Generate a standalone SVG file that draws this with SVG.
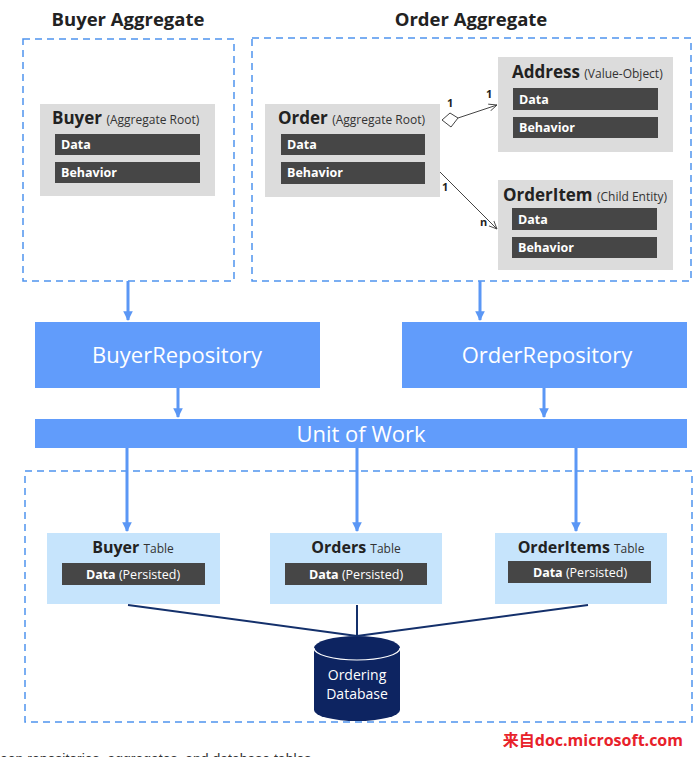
<svg xmlns="http://www.w3.org/2000/svg" width="694" height="757" viewBox="0 0 694 757">
<defs>
<style>
text{font-family:"Open Sans","Noto Sans","Liberation Sans",sans-serif}
.title{font-size:18.5px;font-weight:bold;fill:#222;text-anchor:middle}
.dash{fill:none;stroke:#4f94ee;stroke-width:1.5;stroke-dasharray:7,5}
.node{fill:#dcdcdc}
.bar{fill:#464646}
.bt{font-size:12.5px;font-weight:bold;fill:#fff}
.nn{font-size:17px;font-weight:bold;fill:#222}
.ns{font-size:12px;font-weight:normal;fill:#333}
.repo{fill:#619cfb}
.rt{font-size:22px;fill:#fff;text-anchor:middle}
.tbl{fill:#c6e4fc}
.tn{font-size:16px;font-weight:bold;fill:#222}
.ts{font-size:12px;font-weight:normal;fill:#333}
.blue{stroke:#5b97f5;stroke-width:3;fill:none}
.thin{stroke:#444;stroke-width:1;fill:none}
.navy{stroke:#14306b;stroke-width:2;fill:none}
.lbl{font-size:11px;font-weight:bold;fill:#222}
.db{font-size:14px;fill:#fff;text-anchor:middle}
</style>
<marker id="ab" viewBox="0 0 10 10" refX="9" refY="5" markerWidth="3.2" markerHeight="5" orient="auto" markerUnits="strokeWidth"><path d="M0,0 L10,5 L0,10 z" fill="#5b97f5"/></marker>
<marker id="ao" viewBox="0 0 10 10" refX="9" refY="5" markerWidth="9" markerHeight="9" orient="auto" markerUnits="userSpaceOnUse"><path d="M0,1 L9,5 L0,9" fill="none" stroke="#444" stroke-width="1"/></marker>
</defs>
<rect width="694" height="757" fill="#fff"/>

<text class="title" x="128" y="26">Buyer Aggregate</text>
<text class="title" x="471" y="26">Order Aggregate</text>

<rect class="dash" x="23" y="39" width="211" height="242"/>
<rect class="dash" x="252" y="38" width="439" height="243"/>

<g id="buyer">
<rect class="node" x="40" y="104" width="175" height="92"/>
<text class="nn" x="52" y="124">Buyer <tspan class="ns">(Aggregate Root)</tspan></text>
<rect class="bar" x="55" y="134" width="145" height="21"/>
<text class="bt" x="61" y="149">Data</text>
<rect class="bar" x="55" y="162" width="145" height="21"/>
<text class="bt" x="61" y="177">Behavior</text>
</g>

<g id="order">
<rect class="node" x="265" y="104" width="175" height="93"/>
<text class="nn" x="278" y="124">Order <tspan class="ns">(Aggregate Root)</tspan></text>
<rect class="bar" x="281" y="134" width="144" height="21"/>
<text class="bt" x="287" y="149">Data</text>
<rect class="bar" x="281" y="162" width="144" height="22"/>
<text class="bt" x="287" y="177">Behavior</text>
</g>

<g id="address">
<rect class="node" x="498" y="57" width="175" height="95"/>
<text class="nn" x="512" y="78">Address <tspan class="ns" font-size="11px">(Value-Object)</tspan></text>
<rect class="bar" x="513" y="88" width="145" height="22"/>
<text class="bt" x="519" y="104">Data</text>
<rect class="bar" x="513" y="117" width="145" height="21"/>
<text class="bt" x="519" y="132">Behavior</text>
</g>

<g id="orderitem">
<rect class="node" x="498" y="180" width="175" height="90"/>
<text class="nn" x="503" y="201">OrderItem <tspan class="ns">(Child Entity)</tspan></text>
<rect class="bar" x="512" y="208" width="145" height="22"/>
<text class="bt" x="518" y="224">Data</text>
<rect class="bar" x="512" y="237" width="145" height="21"/>
<text class="bt" x="518" y="252">Behavior</text>
</g>

<g id="buyerRepository">
<rect class="repo" x="35" y="322" width="285" height="66"/>
<text class="rt" x="177" y="363">BuyerRepository</text>
</g>
<g id="orderRepository">
<rect class="repo" x="402" y="322" width="285" height="66"/>
<text class="rt" x="547" y="363">OrderRepository</text>
</g>
<g id="unitOfWork">
<rect class="repo" x="35" y="419" width="652" height="29"/>
<text class="rt" x="361" y="442">Unit of Work</text>
</g>

<rect class="dash" x="25" y="471" width="667" height="251"/>

<g id="buyerTable">
<rect class="tbl" x="47" y="533" width="173" height="71"/>
<text class="tn" x="133" y="553" text-anchor="middle">Buyer <tspan class="ts">Table</tspan></text>
<rect class="bar" x="62" y="563" width="143" height="22"/>
<text class="bt" x="133" y="579" text-anchor="middle">Data <tspan font-weight="normal">(Persisted)</tspan></text>
</g>
<g id="ordersTable">
<rect class="tbl" x="270" y="533" width="172" height="71"/>
<text class="tn" x="356" y="553" text-anchor="middle">Orders <tspan class="ts">Table</tspan></text>
<rect class="bar" x="285" y="563" width="142" height="22"/>
<text class="bt" x="356" y="579" text-anchor="middle">Data <tspan font-weight="normal">(Persisted)</tspan></text>
</g>
<g id="orderItemsTable">
<rect class="tbl" x="495" y="533" width="172" height="71"/>
<text class="tn" x="581" y="553" text-anchor="middle">OrderItems <tspan class="ts">Table</tspan></text>
<rect class="bar" x="508" y="561" width="143" height="22"/>
<text class="bt" x="580" y="577" text-anchor="middle">Data <tspan font-weight="normal">(Persisted)</tspan></text>
</g>

<g id="orderingDatabase">
<path d="M314,648 A43,12 0 0 1 400,648 L400,710 A43,11 0 0 1 314,710 Z" fill="#0d2461"/>
<path d="M314,648 A43,12 0 0 0 400,648" fill="none" stroke="#fff" stroke-width="1.2"/>
<text class="db" x="357" y="680">Ordering</text>
<text class="db" x="357" y="699">Database</text>
</g>

<g id="connectors">
<line class="blue" x1="128" y1="281" x2="128" y2="320" marker-end="url(#ab)"/>
<line class="blue" x1="480" y1="281" x2="480" y2="320" marker-end="url(#ab)"/>
<line class="blue" x1="178" y1="388" x2="178" y2="417" marker-end="url(#ab)"/>
<line class="blue" x1="544" y1="388" x2="544" y2="417" marker-end="url(#ab)"/>
<line class="blue" x1="127" y1="448" x2="127" y2="531" marker-end="url(#ab)"/>
<line class="blue" x1="357" y1="448" x2="357" y2="531" marker-end="url(#ab)"/>
<line class="blue" x1="576" y1="448" x2="576" y2="531" marker-end="url(#ab)"/>
<path d="M442,120 L450,113 L458,118 L451,127 Z" fill="#fff" stroke="#444" stroke-width="1"/>
<line class="thin" x1="458" y1="118" x2="497" y2="105" marker-end="url(#ao)"/>
<line class="thin" x1="440" y1="172" x2="497" y2="229" marker-end="url(#ao)"/>
<text class="lbl" x="447" y="107">1</text>
<text class="lbl" x="486" y="98">1</text>
<text class="lbl" x="442" y="191">1</text>
<text class="lbl" x="480" y="226">n</text>
<line class="navy" x1="128" y1="605" x2="357" y2="636"/>
<line class="navy" x1="357" y1="605" x2="357" y2="636"/>
<line class="navy" x1="588" y1="605" x2="357" y2="636"/>
</g>

<text x="683" y="746" font-size="16px" font-weight="bold" fill="#e8212a" text-anchor="end" style="font-family:'Open Sans','Noto Sans CJK SC',sans-serif">来自doc.microsoft.com</text>
<text x="0" y="764" font-size="14px" fill="#333" style="font-family:'Liberation Sans',sans-serif">een repositories, aggregates, and database tables</text>
</svg>
